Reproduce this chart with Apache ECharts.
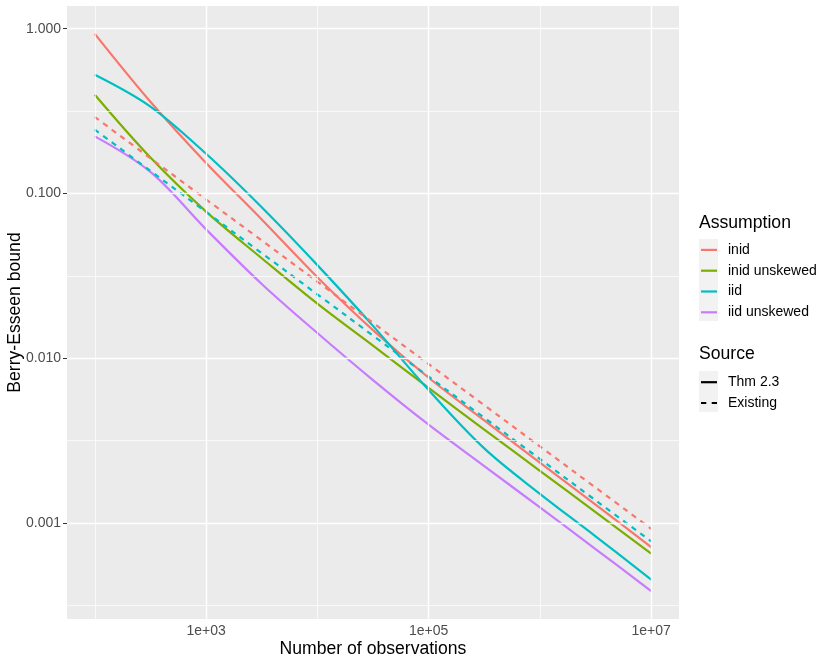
<!DOCTYPE html>
<html>
<head>
<meta charset="utf-8">
<script src="https://cdn.jsdelivr.net/npm/echarts@6/dist/echarts.min.js"></script>
<style>
html,body{margin:0;padding:0;background:#fff;}
#chart{width:830px;height:664px;}
</style>
</head>
<body>
<div id="chart"></div>
<script>
// Number of observations (x), read at half-decade steps
const nObs = [100, 316, 1000, 3162, 10000, 31623, 100000, 316228, 1000000, 3162278, 10000000];

// Thm 2.3 (solid lines)
const inidThm          = [0.93, 0.36, 0.153, 0.0695, 0.031, 0.0148, 0.0076, 0.00419, 0.00232, 0.00129, 0.000713];
const inidUnskewedThm  = [0.397, 0.165, 0.0775, 0.0404, 0.0214, 0.0119, 0.0066, 0.00368, 0.00207, 0.00116, 0.00065];
const iidThm           = [0.526, 0.337, 0.174, 0.0824, 0.0367, 0.0157, 0.0064, 0.00283, 0.0015, 0.000828, 0.000452];
const iidUnskewedThm   = [0.222, 0.135, 0.0605, 0.0282, 0.0142, 0.00735, 0.00394, 0.00221, 0.00124, 0.000693, 0.000385];

// Existing (dashed lines)
const inidExisting     = [0.291, 0.1636, 0.092, 0.0518, 0.0291, 0.01636, 0.0092, 0.00518, 0.00291, 0.001636, 0.00092];
const iidExisting      = [0.244, 0.137, 0.0772, 0.0434, 0.0244, 0.0137, 0.00772, 0.00434, 0.00244, 0.00137, 0.000772];

// Legend entries
const assumptions = ['inid', 'inid unskewed', 'iid', 'iid unskewed'];
const sources = ['Thm 2.3', 'Existing'];

// Axis breaks (log10 units)
const xMajor = [3, 5, 7];
const xMinor = [2, 4, 6];
const yMajor = [-3, -2, -1, 0];
const yMinor = [-3.5, -2.5, -1.5, -0.5];
const xLimits = [1.75, 7.25];
const yLimits = [-3.584, 0.138];

const colors = {'inid':'#F8766D','inid unskewed':'#7CAE00','iid':'#00BFC4','iid unskewed':'#C77CFF'};
const dashPattern = [5.3, 5.3];
const FONT = '"Liberation Sans", Arial, Helvetica, sans-serif';
const TITLE_SIZE = 17.6;
const TEXT_SIZE = 14;
const solidIcon = 'path://M0,0h16v2.2h-16z';
const dashedIcon = 'path://M0,0h5.3v2.2h-5.3z M10.7,0h5.3v2.2h-5.3z';

function toLog(vals){ return nObs.map((n,i)=>[Math.log10(n), Math.log10(vals[i])]); }

function lineSeries(name, vals, dashed){
  return {
    name: name, type: 'line', data: toLog(vals), smooth: 0.35, symbol: 'none',
    z: 3, color: colors[name], itemStyle: {color: colors[name]},
    lineStyle: {color: colors[name], width: 2.2, type: dashed ? dashPattern : 'solid', cap: 'butt'},
    emphasis: {disabled: true}
  };
}

const gridLines = [];
yMajor.forEach(v=>gridLines.push({yAxis:v, lineStyle:{color:'#fff', width:1.4, type:'solid'}}));
yMinor.forEach(v=>gridLines.push({yAxis:v, lineStyle:{color:'#fff', width:0.7, type:'solid'}}));
xMajor.forEach(v=>gridLines.push({xAxis:v, lineStyle:{color:'#fff', width:1.4, type:'solid'}}));
xMinor.forEach(v=>gridLines.push({xAxis:v, lineStyle:{color:'#fff', width:0.7, type:'solid'}}));

const series = [
  {
    name: '__grid', type: 'line', data: [[2, -1]], symbol: 'none', z: 1,
    lineStyle: {opacity: 0}, silent: true,
    markLine: {silent: true, symbol: ['none','none'], label: {show: false}, animation: false,
      emphasis: {disabled: true}, data: gridLines}
  },
  lineSeries('inid', inidThm, false),
  lineSeries('inid unskewed', inidUnskewedThm, false),
  lineSeries('iid', iidThm, false),
  lineSeries('iid unskewed', iidUnskewedThm, false),
  lineSeries('inid', inidExisting, true),
  lineSeries('iid', iidExisting, true),
  {name: 'Thm 2.3', type: 'line', data: [], symbol: 'none', color: '#000', itemStyle: {color: '#000'},
    lineStyle: {color: '#000', width: 2.2, type: 'solid'}},
  {name: 'Existing', type: 'line', data: [], symbol: 'none', color: '#000', itemStyle: {color: '#000'},
    lineStyle: {color: '#000', width: 2.2, type: dashPattern}}
];

const legendText = {fontSize: TEXT_SIZE, color: '#000', fontFamily: FONT, lineHeight: 20.8, padding: [0, 0, 0, 6]};

const chart = echarts.init(document.getElementById('chart'), null, {renderer: 'canvas'});
chart.setOption({
  animation: false,
  backgroundColor: '#fff',
  textStyle: {fontFamily: FONT},
  grid: {left: 67, right: 151, top: 6, bottom: 45, show: true, backgroundColor: '#EBEBEB', borderWidth: 0,
    containLabel: false, outerBoundsMode: 'none'},
  xAxis: {
    type: 'value', min: xLimits[0], max: xLimits[1],
    name: 'Number of observations', nameLocation: 'middle', nameGap: 21, nameMoveOverlap: false,
    nameTextStyle: {fontSize: TITLE_SIZE, color: '#000', fontFamily: FONT},
    axisLine: {show: false},
    axisTick: {show: true, length: 4, lineStyle: {color: '#333', width: 1}, customValues: xMajor},
    axisLabel: {show: true, margin: 5, fontSize: TEXT_SIZE, color: '#4D4D4D', fontFamily: FONT,
      customValues: xMajor, formatter: v => '1e+' + String(Math.round(v)).padStart(2, '0')},
    splitLine: {show: false}
  },
  yAxis: {
    type: 'value', min: yLimits[0], max: yLimits[1],
    name: 'Berry-Esseen bound', nameLocation: 'middle', nameGap: 43, nameRotate: 90, nameMoveOverlap: false,
    nameTextStyle: {fontSize: TITLE_SIZE, color: '#000', fontFamily: FONT},
    axisLine: {show: false},
    axisTick: {show: true, length: 4, lineStyle: {color: '#333', width: 1}, customValues: yMajor},
    axisLabel: {show: true, margin: 6, fontSize: TEXT_SIZE, color: '#4D4D4D', fontFamily: FONT,
      customValues: yMajor, formatter: v => Math.pow(10, v).toFixed(3)},
    splitLine: {show: false}
  },
  legend: [
    {
      data: assumptions.map(a => ({name: a, icon: solidIcon})),
      orient: 'vertical', left: 701, top: 239.5, padding: 0, itemWidth: 16, itemHeight: 2.2, itemGap: 0,
      selectedMode: false, symbolKeepAspect: false,
      textStyle: legendText
    },
    {
      data: [{name: sources[0], icon: solidIcon}, {name: sources[1], icon: dashedIcon}],
      orient: 'vertical', left: 701, top: 371.8, padding: 0, itemWidth: 16, itemHeight: 2.2, itemGap: 0,
      selectedMode: false, symbolKeepAspect: false,
      textStyle: legendText
    }
  ],
  graphic: [
    {type: 'rect', z: 0, shape: {x: 699, y: 239, width: 19, height: 82}, style: {fill: '#F2F2F2'}, silent: true},
    {type: 'rect', z: 0, shape: {x: 699, y: 371, width: 19, height: 41}, style: {fill: '#F2F2F2'}, silent: true},
    {type: 'text', z: 5, x: 699, y: 223.5, style: {text: 'Assumption', fill: '#000', font: TITLE_SIZE + 'px ' + FONT, verticalAlign: 'middle', textVerticalAlign: 'middle'}, silent: true},
    {type: 'text', z: 5, x: 699, y: 354, style: {text: 'Source', fill: '#000', font: TITLE_SIZE + 'px ' + FONT, verticalAlign: 'middle', textVerticalAlign: 'middle'}, silent: true}
  ],
  series: series
});
</script>
</body>
</html>
